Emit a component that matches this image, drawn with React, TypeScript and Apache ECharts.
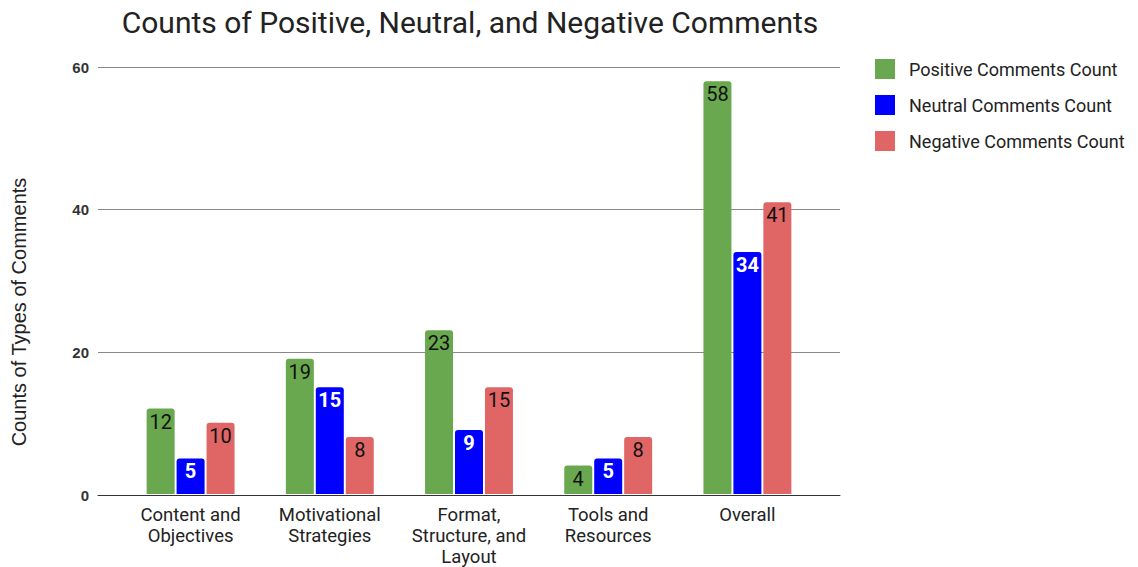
import React, { useEffect, useRef } from "react";
import * as echarts from "echarts";

const categories = [
  "Content and\nObjectives",
  "Motivational\nStrategies",
  "Format,\nStructure, and\nLayout",
  "Tools and\nResources",
  "Overall",
];
const positive = [12, 19, 23, 4, 58];
const neutral = [5, 15, 9, 5, 34];
const negative = [10, 8, 15, 8, 41];
const seriesNames = [
  "Positive Comments Count",
  "Neutral Comments Count",
  "Negative Comments Count",
];
const colors = ["#6aa84f", "#0000ff", "#e06666"];

export default function App() {
  const ref = useRef<HTMLDivElement>(null);
  useEffect(() => {
    if (!ref.current) return;
    const chart = echarts.init(ref.current, null, { renderer: "svg" });
    const mkSeries = (name: string, data: number[], color: string, labelColor: string, bold: boolean) => ({
      name,
      type: "bar",
      xAxisIndex: 1,
      yAxisIndex: 1,
      data,
      barWidth: 28,
      barGap: "7%",
      itemStyle: { color, borderRadius: [3, 3, 0, 0] },
      label: {
        show: true,
        position: "insideTop",
        distance: 3,
        color: labelColor,
        fontFamily: "Roboto",
        fontSize: 20,
        fontWeight: bold ? "bold" : "normal",
      },
    });
    chart.setOption({
      animation: false,
      title: {
        text: "Counts of Positive, Neutral, and Negative Comments",
        left: 465,
        top: 2,
        textAlign: "center",
        textStyle: { fontFamily: "Roboto", fontSize: 30, fontWeight: "normal", color: "#222" },
      },
      legend: {
        orient: "vertical",
        left: 870,
        top: 54,
        itemWidth: 20,
        itemHeight: 20,
        itemGap: 16,
        icon: "rect",
        data: seriesNames,
        textStyle: { fontFamily: "Roboto", fontSize: 18, color: "#222", padding: [0, 0, 0, 9] },
      },
      grid: [
        { left: 98, right: 298, top: 67, bottom: 72 },
        { left: 121, right: 321, top: 67, bottom: 72 },
      ],
      xAxis: [
        {
          gridIndex: 0,
          type: "category",
          data: ["a"],
          axisLine: { show: true, lineStyle: { color: "#333", width: 1 } },
          axisTick: { show: false },
          axisLabel: { show: false },
        },
        {
          gridIndex: 1,
          type: "category",
          data: categories,
          axisLine: { show: false },
          axisTick: { show: false },
          axisLabel: {
            margin: 10,
            fontFamily: "Roboto",
            fontSize: 18.5,
            lineHeight: 21,
            color: "#222",
            interval: 0,
          },
        },
      ],
      yAxis: [
        {
          gridIndex: 0,
          type: "value",
          min: 0,
          max: 60,
          interval: 20,
          axisLine: { show: false },
          axisTick: { show: false },
          splitLine: { lineStyle: { color: "#888", width: 1 } },
          axisLabel: {
            margin: 9,
            fontFamily: "Liberation Sans",
            fontSize: 15,
            fontWeight: "bold",
            color: "#333",
          },
        },
        {
          gridIndex: 1,
          type: "value",
          min: 0,
          max: 60,
          interval: 20,
          show: false,
        },
      ],
      graphic: [
        {
          type: "text",
          x: 19,
          y: 312,
          rotation: Math.PI / 2,
          style: {
            text: "Counts of Types of Comments",
            fontFamily: "Liberation Sans",
            fontSize: 20,
            fill: "#222",
            textAlign: "center",
            textVerticalAlign: "middle",
          },
        },
      ],
      series: [
        mkSeries(seriesNames[0], positive, colors[0], "#111", false),
        mkSeries(seriesNames[1], neutral, colors[1], "#fff", true),
        mkSeries(seriesNames[2], negative, colors[2], "#111", false),
      ],
    });
    return () => chart.dispose();
  }, []);
  return (
    <div
      ref={ref}
      style={{ position: "absolute", left: 0, top: 0, width: 1138, height: 567 }}
    />
  );
}
